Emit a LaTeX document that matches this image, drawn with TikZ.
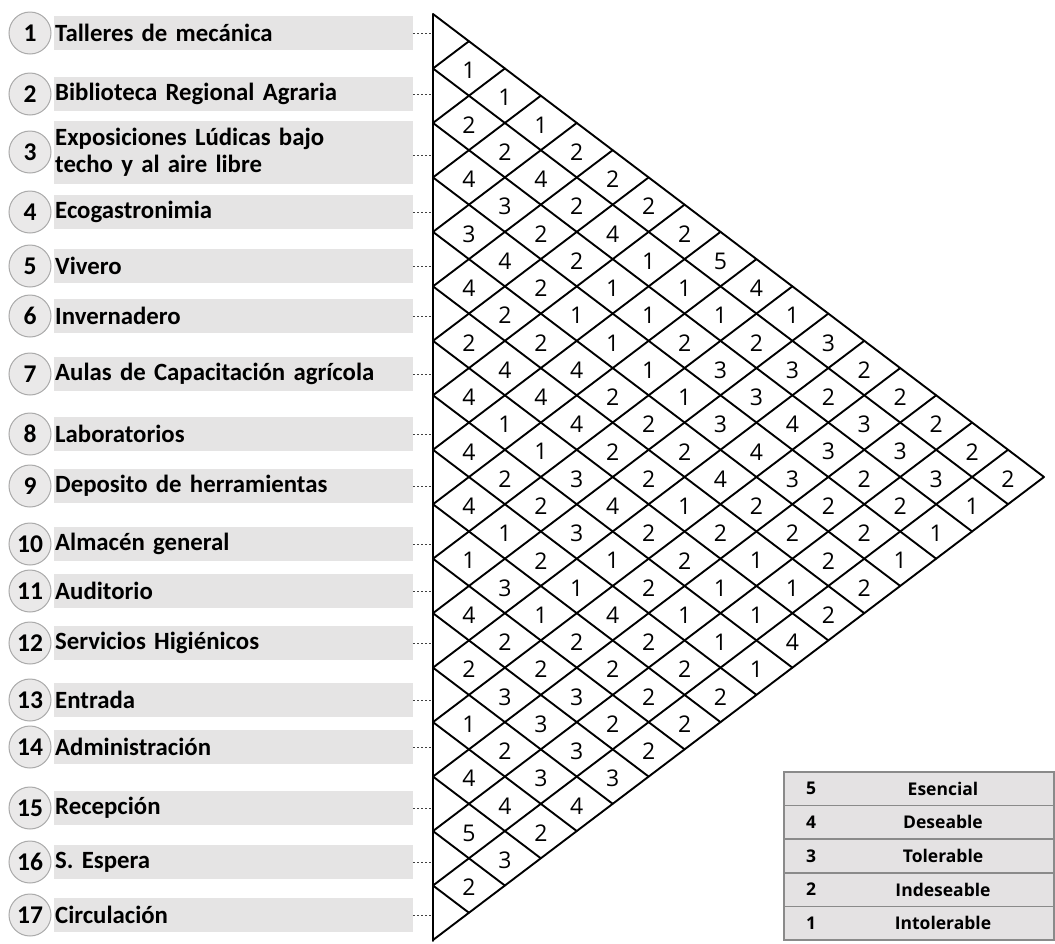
\documentclass[tikz,border=0pt]{standalone}
\usepackage{fontspec}
\setmainfont{Carlito}
\newfontfamily\cellfont{Open Sans}
\usetikzlibrary{positioning}

\definecolor{barfill}{RGB}{229,228,228}
\definecolor{ringgray}{RGB}{170,170,170}
\definecolor{legfill}{RGB}{228,226,227}
\definecolor{legline}{RGB}{138,138,138}

\tikzset{
  label bar/.style={fill=barfill, inner xsep=1pt, inner ysep=0pt, text width=357pt,
    align=left, minimum height=34pt, font=\bfseries\fontsize{24.8}{27}\selectfont},
  num ring/.style={circle, draw=ringgray, fill=barfill!80!white, line width=1pt,
    minimum size=42pt, inner sep=0pt, font=\bfseries\fontsize{25.5}{26}\selectfont},
  lead/.style={dash pattern=on 2pt off 2pt, line width=1pt, black!75},
  grid line/.style={line width=1.9pt, line cap=round},
  cell/.style={font=\cellfont\fontsize{23}{23}\selectfont, inner sep=0pt},
  leg row/.style={draw=legline, fill=legfill, line width=1.6pt, minimum width=270pt,
    minimum height=33.6pt, inner sep=0pt},
  leg text/.style={font=\cellfont\bfseries\fontsize{17.5}{18}\selectfont, inner sep=0pt}
}

\begin{document}
\begin{tikzpicture}[x=1pt, y=-1pt]
\useasboundingbox (0,0) rectangle (1055,943);

% spaces on the left
\foreach \i/\y/\name in {1/33/Talleres de mecánica, 2/94/Biblioteca Regional Agraria,
  4/212/Ecogastronimia, 5/266/Vivero, 6/316/Invernadero,
  7/374/Aulas de Capacitación agrícola, 8/434/Laboratorios,
  9/486/Deposito de herramientas, 10/544/Almacén general, 11/591/Auditorio,
  12/643/Servicios Higiénicos, 13/700/Entrada, 14/747/Administración,
  15/808/Recepción, 16/862/S. Espera, 17/915/Circulación}{
  \node[num ring] (c\i) at (30,\y) {\i};
  \node[label bar, right=2.5pt of c\i] (b\i) {\name};
  \coordinate (e\i) at (433,\y);
  \draw[lead] (b\i.east) -- (e\i);
}
\node[num ring] (c3) at (30,152) {3};
\node[label bar, minimum height=63pt, right=2.5pt of c3] (b3)
  {Exposiciones Lúdicas bajo\\techo y al aire libre};
\coordinate (e3) at (433,155);
\draw[lead] (b3.east |- e3) -- (e3);

% the triangle
\coordinate (top) at (433,14);
\coordinate (bottom) at (433,941);
\coordinate (apex) at (1044,477);
\foreach \k in {0,...,16}
  \draw[grid line] (433,{14+\k*54.47}) -- ({433+(17-\k)*35.94},{14+\k*54.47+(17-\k)*27.235});
\foreach \k in {1,...,17}
  \draw[grid line] (433,{14+\k*54.47}) -- ({433+\k*35.94},{14+\k*27.235});
\draw[grid line] (top) -- (bottom);

% values, one row at a time
\foreach \s/\vals in {3/{1}, 4/{1}, 5/{2,1}, 6/{2,2}, 7/{4,4,2}, 8/{3,2,2},
  9/{3,2,4,2}, 10/{4,2,1,5}, 11/{4,2,1,1,4}, 12/{2,1,1,1,1},
  13/{2,2,1,2,2,3}, 14/{4,4,1,3,3,2}, 15/{4,4,2,1,3,2,2}, 16/{1,4,2,3,4,3,2},
  17/{4,1,2,2,4,3,3,2}, 18/{2,3,2,4,3,2,3,2}, 19/{4,2,4,1,2,2,2,1},
  20/{1,3,2,2,2,2,1}, 21/{1,2,1,2,1,2,1}, 22/{3,1,2,1,1,2}, 23/{4,1,4,1,1,2},
  24/{2,2,2,1,4}, 25/{2,2,2,2,1}, 26/{3,3,2,2}, 27/{1,3,2,2}, 28/{2,3,2},
  29/{4,3,3}, 30/{4,4}, 31/{5,2}, 32/{3}, 33/{2}}{
  \foreach \v [count=\k] in \vals {
    \pgfmathtruncatemacro\d{2*\k-mod(\s,2)}
    \node[cell] (v\s-\k) at ({433+\d*35.94},{16+(\s-1)*27.235}) {\v};
  }
}

% legend
\foreach \n/\t [count=\r] in {5/Esencial, 4/Deseable, 3/Tolerable, 2/Indeseable, 1/Intolerable}{
  \node[leg row] (l\n) at (919,{772+(\r-0.5)*33.6}) {};
  \node[leg text] (ln\n) at (l\n.center -| 811,0) {\n};
  \node[leg text] (lt\n) at (l\n.center -| 943,0) {\t};
}
\end{tikzpicture}
\end{document}
